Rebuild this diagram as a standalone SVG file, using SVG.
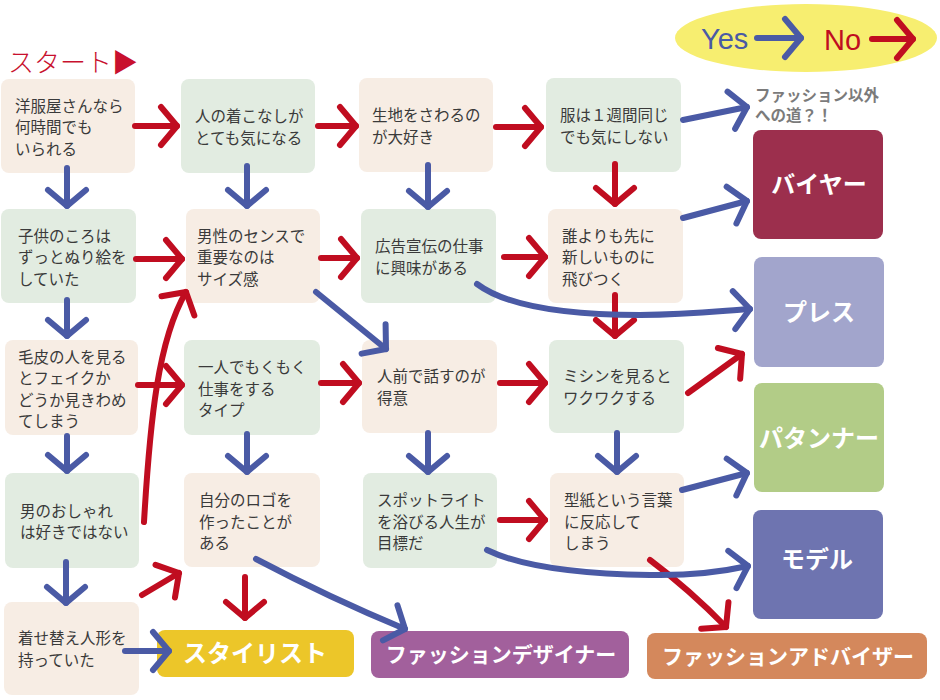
<svg xmlns="http://www.w3.org/2000/svg" width="940" height="700" viewBox="0 0 940 700">
<defs>
<style>
.bg{fill:#ffffff}
.n{fill:#f7ede4}
.g{fill:#e2ece1}
.t{font-family:"Noto Sans CJK JP","Noto Sans",sans-serif;font-size:15.5px;fill:#3a3a3a}
.o{font-family:"Noto Sans CJK JP","Noto Sans",sans-serif;font-weight:bold;fill:#ffffff;text-anchor:middle}
.no{fill:none;stroke:#c00d20;stroke-width:6;stroke-linecap:round;stroke-linejoin:round;marker-end:url(#ar)}
.yes{fill:none;stroke:#4a5aa5;stroke-width:6;stroke-linecap:round;stroke-linejoin:round;marker-end:url(#ab)}
</style>
<marker id="ar" markerUnits="userSpaceOnUse" orient="auto" overflow="visible" markerWidth="1" markerHeight="1" refX="0" refY="0">
<path d="M-16,-19 L0,0 L-16,19" fill="none" stroke="#c00d20" stroke-width="6" stroke-linecap="round" stroke-linejoin="round"/>
</marker>
<marker id="ab" markerUnits="userSpaceOnUse" orient="auto" overflow="visible" markerWidth="1" markerHeight="1" refX="0" refY="0">
<path d="M-16,-19 L0,0 L-16,19" fill="none" stroke="#4a5aa5" stroke-width="6" stroke-linecap="round" stroke-linejoin="round"/>
</marker>
</defs>
<rect class="bg" x="0" y="0" width="940" height="700"/>

<g id="legend">
<ellipse cx="806" cy="38" rx="131" ry="34" fill="#f7ee70"/>
<text x="701" y="49" font-family="Liberation Sans,Arial,sans-serif" font-size="29" fill="#4a5aa5">Yes</text>
<text x="824" y="50" font-family="Liberation Sans,Arial,sans-serif" font-size="29" fill="#c00d20">No</text>
</g>

<g id="start">
<text x="8" y="72" font-family="Noto Sans CJK JP,sans-serif" font-size="26" font-weight="300" fill="#c8102e">スタート▶</text>
</g>

<g id="other">
<text class="t" x="755" y="101" style="fill:#7b7b7b;font-weight:bold">ファッション以外</text>
<text class="t" x="755" y="121" style="fill:#7b7b7b;font-weight:bold">への道？！</text>
</g>

<g id="A1"><rect class="n" x="1" y="79" width="134" height="94" rx="8"/>
<text class="t" x="15" y="111.5">洋服屋さんなら</text><text class="t" x="15" y="133">何時間でも</text><text class="t" x="15" y="154.5">いられる</text></g>
<g id="B1"><rect class="g" x="181" y="79" width="134" height="94" rx="8"/>
<text class="t" x="195" y="122">人の着こなしが</text><text class="t" x="195" y="143.5">とても気になる</text></g>
<g id="C1"><rect class="n" x="359" y="78" width="134" height="94" rx="8"/>
<text class="t" x="372" y="121">生地をさわるの</text><text class="t" x="372" y="142.5">が大好き</text></g>
<g id="D1"><rect class="g" x="546" y="78" width="135" height="94" rx="8"/>
<text class="t" x="560" y="121">服は１週間同じ</text><text class="t" x="560" y="142.5">でも気にしない</text></g>

<g id="A2"><rect class="g" x="1" y="209" width="135" height="94" rx="8"/>
<text class="t" x="18" y="241.5">子供のころは</text><text class="t" x="18" y="263">ずっとぬり絵を</text><text class="t" x="18" y="284.5">していた</text></g>
<g id="B2"><rect class="n" x="186" y="209" width="134" height="94" rx="8"/>
<text class="t" x="197" y="241.5">男性のセンスで</text><text class="t" x="197" y="263">重要なのは</text><text class="t" x="197" y="284.5">サイズ感</text></g>
<g id="C2"><rect class="g" x="361" y="209" width="135" height="94" rx="8"/>
<text class="t" x="375" y="252">広告宣伝の仕事</text><text class="t" x="375" y="273.5">に興味がある</text></g>
<g id="D2"><rect class="n" x="548" y="209" width="135" height="94" rx="8"/>
<text class="t" x="562" y="241.5">誰よりも先に</text><text class="t" x="562" y="263">新しいものに</text><text class="t" x="562" y="284.5">飛びつく</text></g>

<g id="A3"><rect class="n" x="5" y="340" width="133" height="95" rx="8"/>
<text class="t" x="18" y="362.5">毛皮の人を見る</text><text class="t" x="18" y="384">とフェイクか</text><text class="t" x="18" y="405.5">どうか見きわめ</text><text class="t" x="18" y="427">てしまう</text></g>
<g id="B3"><rect class="g" x="184" y="340" width="136" height="95" rx="8"/>
<text class="t" x="198" y="373">一人でもくもく</text><text class="t" x="198" y="394.5">仕事をする</text><text class="t" x="198" y="416">タイプ</text></g>
<g id="C3"><rect class="n" x="362" y="340" width="135" height="93" rx="8"/>
<text class="t" x="377" y="382">人前で話すのが</text><text class="t" x="377" y="403.5">得意</text></g>
<g id="D3"><rect class="g" x="549" y="340" width="135" height="93" rx="8"/>
<text class="t" x="563" y="382">ミシンを見ると</text><text class="t" x="563" y="403.5">ワクワクする</text></g>

<g id="A4"><rect class="g" x="5" y="473" width="134" height="95" rx="8"/>
<text class="t" x="20" y="516.5">男のおしゃれ</text><text class="t" x="20" y="538">は好きではない</text></g>
<g id="B4"><rect class="n" x="184" y="473" width="136" height="94" rx="8"/>
<text class="t" x="199" y="506">自分のロゴを</text><text class="t" x="199" y="527.5">作ったことが</text><text class="t" x="199" y="549">ある</text></g>
<g id="C4"><rect class="g" x="363" y="473" width="134" height="95" rx="8"/>
<text class="t" x="377" y="506">スポットライト</text><text class="t" x="377" y="527.5">を浴びる人生が</text><text class="t" x="377" y="549">目標だ</text></g>
<g id="D4"><rect class="n" x="550" y="473" width="134" height="94" rx="8"/>
<text class="t" x="564" y="506">型紙という言葉</text><text class="t" x="564" y="527.5">に反応して</text><text class="t" x="564" y="549">しまう</text></g>

<g id="A5"><rect class="n" x="4" y="602" width="135" height="93" rx="8"/>
<text class="t" x="18" y="644">着せ替え人形を</text><text class="t" x="18" y="665.5">持っていた</text></g>

<g id="buyer"><rect x="753" y="130" width="130" height="109" rx="8" fill="#9c2f4d"/>
<text class="o" x="819" y="193" font-size="24">バイヤー</text></g>
<g id="press"><rect x="754" y="257" width="130" height="110" rx="8" fill="#a2a5cc"/>
<text class="o" x="819" y="321" font-size="24">プレス</text></g>
<g id="patterner"><rect x="754" y="383" width="130" height="109" rx="8" fill="#b2cc87"/>
<text class="o" x="819" y="447" font-size="24">パタンナー</text></g>
<g id="model"><rect x="753" y="510" width="130" height="109" rx="8" fill="#6e74b0"/>
<text class="o" x="817" y="568" font-size="24">モデル</text></g>
<g id="stylist"><rect x="157" y="630" width="197" height="47" rx="8" fill="#ecc629"/>
<text class="o" x="255" y="662" font-size="24">スタイリスト</text></g>
<g id="designer"><rect x="371" y="631" width="258" height="47" rx="8" fill="#a2609c"/>
<text class="o" x="501" y="662" font-size="21">ファッションデザイナー</text></g>
<g id="adviser"><rect x="647" y="633" width="280" height="46" rx="8" fill="#d4885c"/>
<text class="o" x="788" y="664" font-size="21">ファッションアドバイザー</text></g>

<g id="connectors">
<path class="yes" d="M757,38 L801,38"/>
<path class="no" d="M872,39 L913,39"/>

<path class="no" d="M135,126 L177,126"/>
<path class="no" d="M318,126 L356,126"/>
<path class="no" d="M496,127 L541,127"/>
<path class="no" d="M136,259 L182,259"/>
<path class="no" d="M321,258 L357,258"/>
<path class="no" d="M504,257 L545,257"/>
<path class="no" d="M138,385 L182,385"/>
<path class="no" d="M321,383 L359,383"/>
<path class="no" d="M500,383 L545,383"/>
<path class="no" d="M500,520 L545,520"/>
<path class="no" d="M615,164 L615,204"/>
<path class="no" d="M615,295 L615,336"/>
<path class="no" d="M688,393 L742,354"/>
<path class="no" d="M144,522 C150,420 158,340 186,292"/>
<path class="no" d="M142,595 L179,573"/>
<path class="no" d="M245,577 L245,618"/>
<path class="no" d="M650,560 Q690,590 726,627"/>

<path class="yes" d="M67,168 L67,206"/>
<path class="yes" d="M247,166 L247,206"/>
<path class="yes" d="M428,165 L428,207"/>
<path class="yes" d="M67,300 L67,336"/>
<path class="yes" d="M67,436 L67,471"/>
<path class="yes" d="M66,562 L66,603"/>
<path class="yes" d="M247,434 L247,472"/>
<path class="yes" d="M428,433 L428,472"/>
<path class="yes" d="M617,433 L617,472"/>
<path class="yes" d="M316,292 L386,349"/>
<path class="yes" d="M477,284 C505,305 560,315 640,315 C690,315 720,311 750,309"/>
<path class="yes" d="M683,120 L747,107"/>
<path class="yes" d="M683,218 L747,201"/>
<path class="yes" d="M682,490 L747,473"/>
<path class="yes" d="M487,550 C520,566 580,574 650,575 C700,576 730,570 748,566"/>
<path class="yes" d="M256,559 Q330,598 405,629"/>
<path class="yes" d="M125,651 L169,651"/>
</g>
</svg>
